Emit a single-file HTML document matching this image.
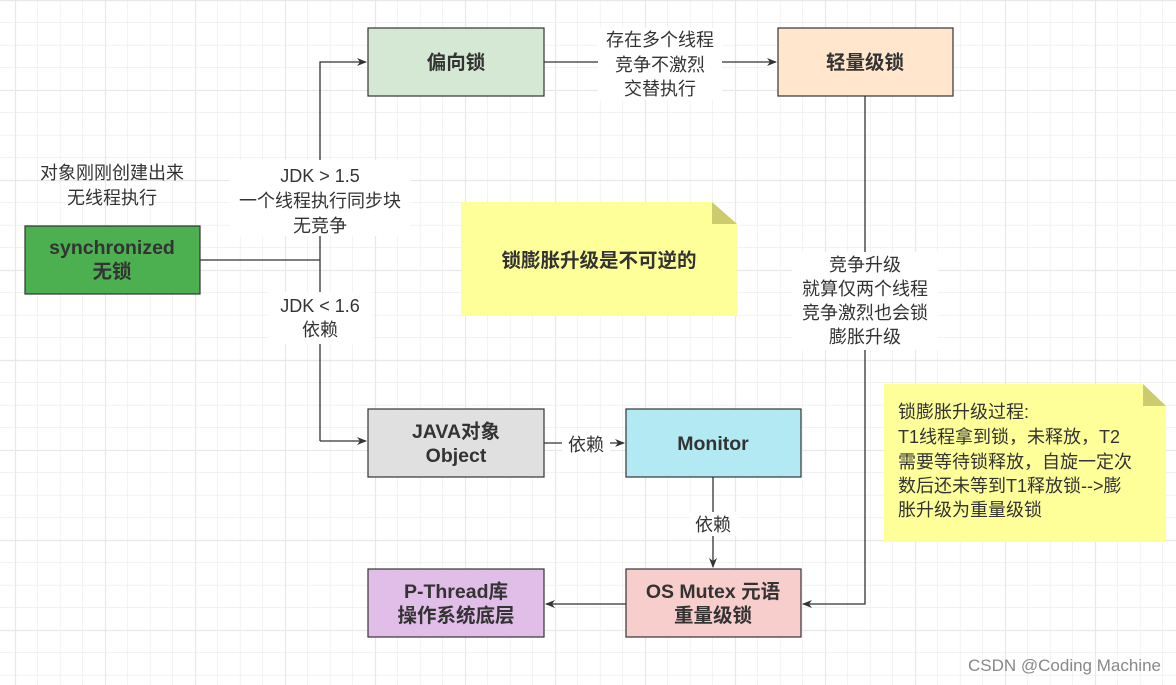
<!DOCTYPE html>
<html><head><meta charset="utf-8"><style>
html,body{margin:0;padding:0;background:#fff}
svg{display:block}
text{font-family:"Liberation Sans","Noto Sans CJK SC",sans-serif;fill:#333}
.b{font-weight:bold;font-size:19.5px;fill:#333}
.t{font-size:18px}
</style></head><body>
<svg width="1176" height="685" viewBox="0 0 1176 685" xmlns="http://www.w3.org/2000/svg">
<defs>
<pattern id="g" x="15.5" y="0.5" width="22.5" height="22.5" patternUnits="userSpaceOnUse">
<path d="M22.5 0 V22.5 M0 22.5 H22.5" stroke="#ebebeb" stroke-width="1.2" fill="none"/>
</pattern>
<pattern id="G" x="15.5" y="0.5" width="90" height="90" patternUnits="userSpaceOnUse">
<path d="M0 0 V90 M0 0 H90" stroke="#e4e4e4" stroke-width="1.2" fill="none"/>
</pattern>
<marker id="a" markerWidth="10" markerHeight="10" refX="9" refY="5" orient="auto" markerUnits="userSpaceOnUse">
<path d="M0 1 L10 5 L0 9 L3 5 Z" fill="#333"/>
</marker>
</defs>
<rect width="1176" height="685" fill="url(#g)"/>
<rect width="1176" height="685" fill="url(#G)"/>
<g stroke="#333" stroke-width="1.3" fill="none">
<path d="M200 260 H320"/>
<path d="M320 441 V62 H366" marker-end="url(#a)"/>
<path d="M320 441 H366" marker-end="url(#a)"/>
<path d="M544 62 H776" marker-end="url(#a)"/>
<path d="M865 96 V604 H803" marker-end="url(#a)"/>
<path d="M544 443 H624" marker-end="url(#a)"/>
<path d="M713 477 V567" marker-end="url(#a)"/>
<path d="M626 604 H546" marker-end="url(#a)"/>
</g>
<g stroke="#333" stroke-width="1.2">
<rect x="25" y="226" width="175" height="68" fill="#4caf50"/>
<rect x="368" y="28" width="176" height="68" fill="#d5e8d4"/>
<rect x="778" y="28" width="175" height="68" fill="#ffe6cc"/>
<rect x="368" y="409" width="176" height="68" fill="#e0e0e0"/>
<rect x="626" y="409" width="175" height="68" fill="#b3e9f2"/>
<rect x="626" y="569" width="175" height="68" fill="#f8cecc"/>
<rect x="368" y="569" width="176" height="68" fill="#e1bee7"/>
</g>
<path d="M461 202 H712 L737 224 V316 H461 Z" fill="#ffff99"/>
<path d="M712 202 V224 H737 Z" fill="#cccc6e"/>
<path d="M884 384 H1143 L1166 406 V542 H884 Z" fill="#ffff99"/>
<path d="M1143 384 V406 H1166 Z" fill="#cccc6e"/>
<g fill="#fff">
<rect x="230" y="160" width="180" height="76"/>
<rect x="268" y="292" width="104" height="52"/>
<rect x="598" y="28" width="124" height="72"/>
<rect x="792" y="252" width="146" height="98"/>
<rect x="562" y="432" width="48" height="24"/>
<rect x="690" y="512" width="48" height="24"/>
</g>
<g text-anchor="middle">
<text class="b" x="112" y="254">synchronized</text>
<text class="b" x="112" y="278">无锁</text>
<text class="b" x="456" y="69">偏向锁</text>
<text class="b" x="865" y="69">轻量级锁</text>
<text class="b" x="456" y="438">JAVA对象</text>
<text class="b" x="456" y="462">Object</text>
<text class="b" x="713" y="450">Monitor</text>
<text class="b" x="713" y="598">OS Mutex 元语</text>
<text class="b" x="713" y="622">重量级锁</text>
<text class="b" x="456" y="598">P-Thread库</text>
<text class="b" x="456" y="622">操作系统底层</text>
<text class="b" x="599" y="267">锁膨胀升级是不可逆的</text>
<text class="t" x="112" y="179">对象刚刚创建出来</text>
<text class="t" x="112" y="204">无线程执行</text>
<text class="t" x="320" y="182">JDK &gt; 1.5</text>
<text class="t" x="320" y="207">一个线程执行同步块</text>
<text class="t" x="320" y="232">无竞争</text>
<text class="t" x="320" y="312">JDK &lt; 1.6</text>
<text class="t" x="320" y="336">依赖</text>
<text class="t" x="660" y="46">存在多个线程</text>
<text class="t" x="660" y="71">竞争不激烈</text>
<text class="t" x="660" y="95">交替执行</text>
<text class="t" x="865" y="271">竞争升级</text>
<text class="t" x="865" y="295">就算仅两个线程</text>
<text class="t" x="865" y="319">竞争激烈也会锁</text>
<text class="t" x="865" y="343">膨胀升级</text>
<text class="t" x="586" y="451">依赖</text>
<text class="t" x="713" y="531">依赖</text>
</g>
<text class="t" x="898" y="418">锁膨胀升级过程:</text>
<text class="t" x="898" y="443">T1线程拿到锁，未释放，T2</text>
<text class="t" x="898" y="468">需要等待锁释放，自旋一定次</text>
<text class="t" x="898" y="492">数后还未等到T1释放锁--&gt;膨</text>
<text class="t" x="898" y="516">胀升级为重量级锁</text>
<text x="1161" y="671" text-anchor="end" style="font-size:17px;fill:#888">CSDN @Coding Machine</text>
</svg>
</body></html>
